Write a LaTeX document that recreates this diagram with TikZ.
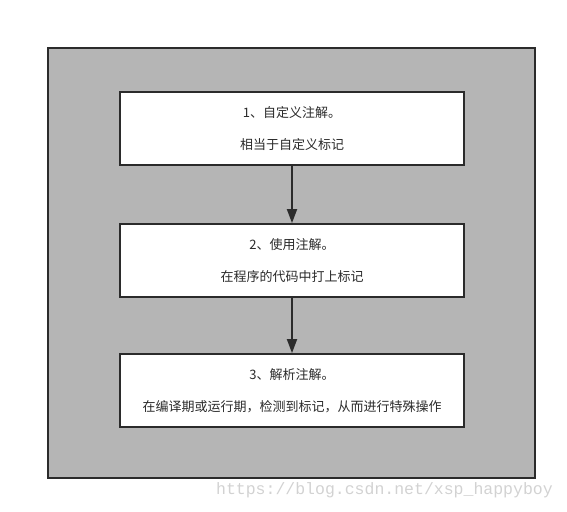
\documentclass[tikz,border=0pt]{standalone}
\usepackage{fontspec}
\usepackage{tikz}
\usetikzlibrary{arrows.meta}
\usetikzlibrary{positioning}
\newfontfamily\cjk{Noto Sans CJK SC}
\setmonofont{Liberation Mono}
\definecolor{panelgray}{HTML}{B5B5B5}
\definecolor{linedark}{HTML}{2B2B2B}
\definecolor{markgray}{HTML}{D2D2D2}

\begin{document}
\begin{tikzpicture}[x=1pt, y=-1pt,
        stepbox/.style={draw=linedark, line width=1.8pt, fill=white,
            minimum width=344pt, minimum height=73pt, inner sep=0pt,
            align=center, text=linedark,
            font=\cjk\fontsize{13}{32}\selectfont},
        flow/.style={-{Triangle[length=14pt,width=10pt]}, draw=linedark, line width=1.8pt}]

        \useasboundingbox (0,0) rectangle (567,511);

        \filldraw [fill=panelgray, draw=linedark, line width=1.8pt] (48, 48) rectangle (535, 478);

        \node[stepbox] (define) at (292, 128.5) {1、自定义注解。\\相当于自定义标记};
        \node[stepbox] (use) at (292, 260.5) {2、使用注解。\\在程序的代码中打上标记};
        \node[stepbox] (parse) at (292, 390.5) {3、解析注解。\\在编译期或运行期，检测到标记，从而进行特殊操作};

        \draw [flow] (define) -- (use);
        \draw [flow] (use) -- (parse);

        \node[text=markgray, font=\ttfamily\fontsize{16.5}{18}\selectfont, anchor=east, inner sep=0pt] (mark) at (553, 490) {https://blog.csdn.net/xsp\_happyboy};

    \end{tikzpicture}
\end{document}
